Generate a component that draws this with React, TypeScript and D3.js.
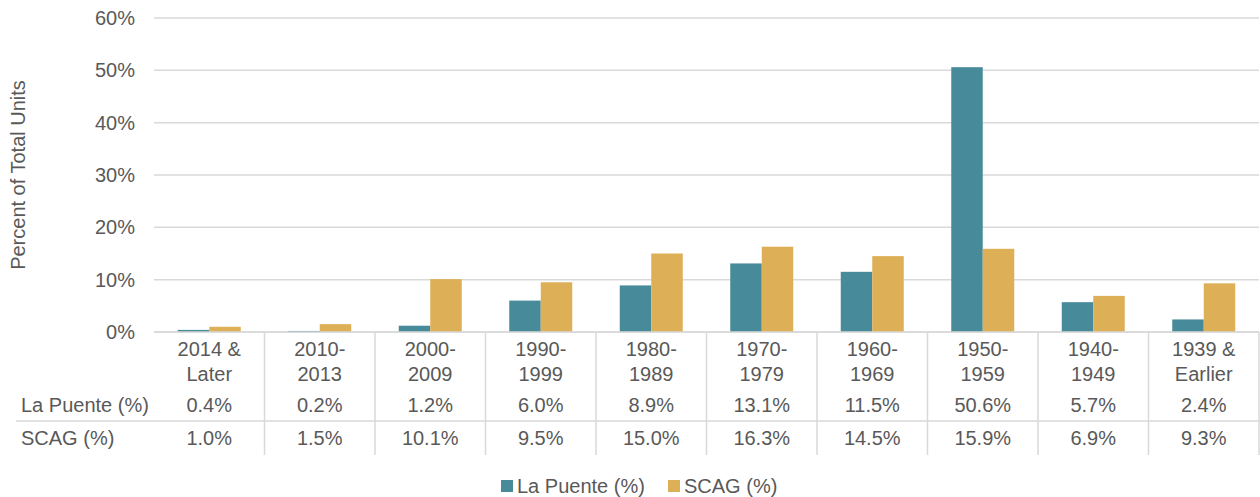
import React from "react";
import * as d3 from "d3";

const categories = [
  ["2014 &", "Later"],
  ["2010-", "2013"],
  ["2000-", "2009"],
  ["1990-", "1999"],
  ["1980-", "1989"],
  ["1970-", "1979"],
  ["1960-", "1969"],
  ["1950-", "1959"],
  ["1940-", "1949"],
  ["1939 &", "Earlier"],
];
const laPuente = [0.4, 0.2, 1.2, 6.0, 8.9, 13.1, 11.5, 50.6, 5.7, 2.4];
const scag = [1.0, 1.5, 10.1, 9.5, 15.0, 16.3, 14.5, 15.9, 6.9, 9.3];
const seriesNames = ["La Puente (%)", "SCAG (%)"];
const yTicks = [0, 10, 20, 30, 40, 50, 60];

const colors = ["#478a99", "#ddaf56"];
const textColor = "#595959";
const gridColor = "#d9d9d9";
const font = "'Liberation Sans', Arial, sans-serif";

const App = () => {
  const width = 1260;
  const height = 497;
  const left = 154;
  const right = 1259;
  const top = 18;
  const bottom = 332;
  const fs = 20;

  const keys = categories.map((c) => c.join(" "));
  const x = d3.scaleBand<string>().domain(keys).range([left, right]).padding(0);
  const xInner = d3
    .scaleBand<string>()
    .domain(seriesNames)
    .range([0, x.bandwidth()])
    .paddingInner(0)
    .paddingOuter(0.754);
  const y = d3.scaleLinear().domain([0, 60]).range([bottom, top]);

  const series = [laPuente, scag];
  const rowY = [405, 438];
  const tableBottom = 455;

  return (
    <svg
      width={width}
      height={height}
      style={{ position: "absolute", left: 0, top: 0, background: "#fff" }}
      fontFamily={font}
    >
      {/* gridlines */}
      {yTicks.map((t) => (
        <g key={t}>
          <line x1={left} x2={right} y1={y(t)} y2={y(t)} stroke={gridColor} strokeWidth={1.5} />
          <text
            x={135}
            y={y(t)}
            textAnchor="end"
            dominantBaseline="central"
            fontSize={fs}
            fill={textColor}
          >
            {t}%
          </text>
        </g>
      ))}

      {/* y axis title */}
      <text
        transform={`translate(18,${(top + bottom) / 2}) rotate(-90)`}
        textAnchor="middle"
        dominantBaseline="central"
        fontSize={fs}
        fill={textColor}
      >
        Percent of Total Units
      </text>

      {/* bars */}
      {series.map((vals, si) =>
        vals.map((v, i) => (
          <rect
            key={`${si}-${i}`}
            x={(x(keys[i]) as number) + (xInner(seriesNames[si]) as number)}
            y={y(v)}
            width={xInner.bandwidth()}
            height={y(0) - y(v)}
            fill={colors[si]}
          />
        ))
      )}

      {/* table lines */}
      <line x1={16} x2={right} y1={421} y2={421} stroke={gridColor} strokeWidth={1.5} />
      {keys.map((k) => (
        <line
          key={k}
          x1={(x(k) as number) + x.bandwidth()}
          x2={(x(k) as number) + x.bandwidth()}
          y1={bottom}
          y2={tableBottom}
          stroke={gridColor}
          strokeWidth={1.5}
        />
      ))}
      <line x1={left} x2={right} y1={bottom} y2={bottom} stroke={gridColor} strokeWidth={1.5} />

      {/* category labels */}
      {categories.map((c, i) => (
        <text key={keys[i]} textAnchor="middle" fontSize={fs} fill={textColor}>
          {c.map((line, li) => (
            <tspan
              key={li}
              x={(x(keys[i]) as number) + x.bandwidth() / 2}
              y={348.5 + li * 25}
              dominantBaseline="central"
            >
              {line}
            </tspan>
          ))}
        </text>
      ))}

      {/* table rows */}
      {series.map((vals, si) => (
        <g key={si}>
          <text x={21} y={rowY[si]} dominantBaseline="central" fontSize={fs} fill={textColor}>
            {seriesNames[si]}
          </text>
          {vals.map((v, i) => (
            <text
              key={i}
              x={(x(keys[i]) as number) + x.bandwidth() / 2}
              y={rowY[si]}
              textAnchor="middle"
              dominantBaseline="central"
              fontSize={fs}
              fill={textColor}
            >
              {v.toFixed(1)}%
            </text>
          ))}
        </g>
      ))}

      {/* legend */}
      {seriesNames.map((s, si) => {
        const lx = [501, 668][si];
        return (
          <g key={s}>
            <rect x={lx} y={480} width={12} height={12} fill={colors[si]} />
            <text x={lx + 16} y={486} dominantBaseline="central" fontSize={fs} fill={textColor}>
              {s}
            </text>
          </g>
        );
      })}
    </svg>
  );
};

export default App;
